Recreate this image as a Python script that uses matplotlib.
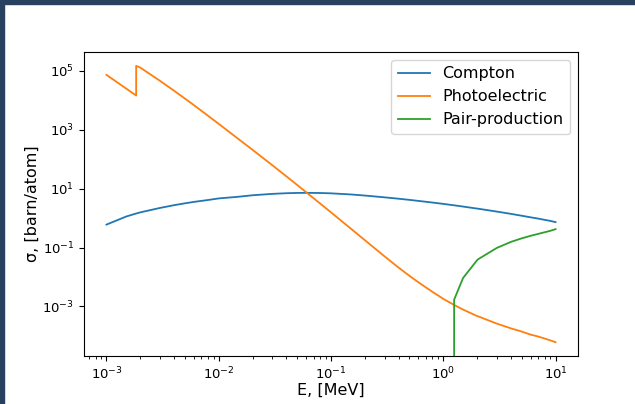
import matplotlib
matplotlib.use("Agg")
import matplotlib.pyplot as plt
from matplotlib.patches import Rectangle

# Photon energy grid, MeV (K-edge listed twice)
energy = [1e-3, 1.5e-3, 1.839e-3, 1.839e-3, 2e-3, 3e-3, 4e-3, 5e-3, 6e-3, 8e-3,
          1e-2, 1.5e-2, 2e-2, 3e-2, 4e-2, 5e-2, 6e-2, 8e-2,
          0.1, 0.15, 0.2, 0.3, 0.4, 0.5, 0.6, 0.8,
          1.0, 1.022, 1.25, 1.5, 2.0, 2.044, 3.0, 4.0, 5.0, 6.0, 7.0, 8.0, 9.0, 10.0]

compton = [0.60, 1.13, 1.43, 1.43, 1.56, 2.21, 2.74, 3.17, 3.54, 4.10,
           4.65, 5.30, 5.95, 6.63, 6.98, 7.14, 7.18, 7.11,
           6.92, 6.34, 5.82, 5.06, 4.54, 4.15, 3.83, 3.37,
           3.03, 3.00, 2.71, 2.46, 2.10, 2.08, 1.66, 1.39, 1.20, 1.06, 0.96, 0.87, 0.80, 0.73]

photoelectric = [7.3e4, 2.49e4, 1.45e4, 1.48e5, 1.29e5, 4.56e4, 2.11e4, 1.14e4, 6.88e3, 3.01e3,
                 1.58e3, 482, 208, 62.4, 26.2, 13.3, 7.57, 3.12,
                 1.56, 0.44, 0.178, 0.050, 0.0208, 0.0109, 6.6e-3, 3.13e-3,
                 1.81e-3, 1.72e-3, 1.12e-3, 7.8e-4, 4.7e-4, 4.6e-4, 2.6e-4, 1.8e-4, 1.4e-4,
                 1.1e-4, 9.5e-5, 8.1e-5, 7.0e-5, 6.1e-5]

pair = [0, 0, 0, 0, 0, 0, 0, 0, 0, 0,
        0, 0, 0, 0, 0, 0, 0, 0,
        0, 0, 0, 0, 0, 0, 0, 0,
        0, 0, 1.7e-3, 9.2e-3, 3.7e-2, 4.0e-2, 0.097, 0.155, 0.205, 0.25, 0.29, 0.33, 0.37, 0.42]

labels = ["Compton", "Photoelectric", "Pair-production"]

fig = plt.figure(figsize=(6.35, 4.04), dpi=100)
ax = fig.add_axes([84/635, 1 - 356/404, 494/635, 304/404])

ax.plot(energy, compton, color="#1f77b4", lw=1.3, label=labels[0])
ax.plot(energy, photoelectric, color="#ff7f0e", lw=1.3, label=labels[1])
ax.plot(energy, pair, color="#2ca02c", lw=1.3, label=labels[2])
ax.set_xscale("log")
ax.set_yscale("log")

ax.set_xlabel("E, [MeV]", fontsize=11.5, labelpad=0.5)
ax.set_ylabel("σ, [barn/atom]", fontsize=11.5, labelpad=2)
ax.tick_params(axis="both", labelsize=9.5)
ax.legend(loc="upper right", fontsize=11.5)

# dark frame strips at top and left
fig.patches.append(Rectangle((0, 1 - 4/404), 1, 4/404, transform=fig.transFigure,
                             color="#27415f", zorder=10))
fig.patches.append(Rectangle((0, 0), 4/635, 1, transform=fig.transFigure,
                             color="#27415f", zorder=10))

fig.savefig("out.png", dpi=100)
